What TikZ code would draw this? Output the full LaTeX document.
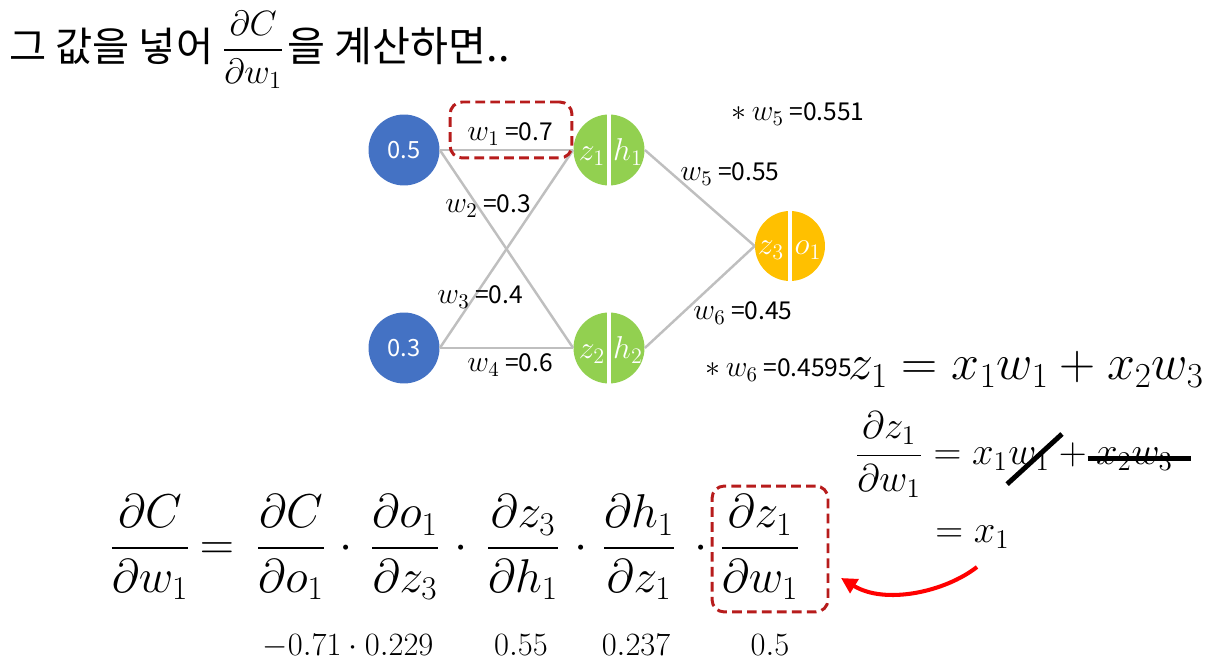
\RequirePackage{fix-cm}
\documentclass[tikz,border=0pt]{standalone}
\usepackage{amsmath}
\usepackage[no-math]{fontspec}
\newfontfamily\krfont{Noto Sans CJK KR}
\usepackage{tikz}
\usetikzlibrary{positioning, calc, arrows.meta}

\definecolor{inblue}{HTML}{4472C4}
\definecolor{hidgreen}{HTML}{92D050}
\definecolor{outgold}{HTML}{FFC000}
\definecolor{wiregray}{HTML}{BFBFBF}
\definecolor{boxred}{RGB}{183,28,28}
\definecolor{penred}{HTML}{FF0000}

\newcommand{\wsym}[1]{{\fontsize{17}{20}\selectfont$w_{#1}$}}
\newcommand{\newmark}{{\fontsize{17}{20}\selectfont$\ast$}}

\begin{document}
\begin{tikzpicture}[x=0.02cm, y=-0.02cm,
  unit/.style={circle, inner sep=0pt, minimum size=1.42cm},
  inp/.style={unit, fill=inblue, text=white, font=\krfont\fontsize{13.5}{15}\selectfont},
  hid/.style={unit, fill=hidgreen},
  outp/.style={unit, fill=outgold, minimum size=1.4cm},
  half/.style={anchor=base, inner sep=0pt, text=white, font=\fontsize{18}{20}\selectfont},
  split/.style={draw=white, line width=2.4pt},
  wire/.style={draw=wiregray, line width=1.4pt},
  wlbl/.style={anchor=base west, inner sep=0pt, font=\krfont\fontsize{14}{16}\selectfont},
  redbox/.style={draw=boxred, line width=1.7pt, rounded corners=7pt, dash pattern=on 5.5pt off 3pt},
  eqn/.style={anchor=base, inner sep=0pt, font=\fontsize{27}{32}\selectfont},
  side/.style={anchor=base west, inner sep=0pt, font=\fontsize{22}{26}\selectfont},
  num/.style={anchor=base, inner sep=0pt, font=\fontsize{18.5}{22}\selectfont},
  strike/.style={line width=2.8pt}
]
\useasboundingbox (0,0) rectangle (1218,668);

%% Title
\node[anchor=base west, inner sep=0pt, font=\krfont\fontsize{23}{28}\selectfont] (title) at (9,62) {그 값을 넣어};
\node[anchor=base west, inner sep=0pt, font=\fontsize{20}{24}\selectfont] (tfrac) at (222,59) {$\displaystyle\frac{\partial C}{\partial w_1}$};
\node[anchor=base west, inner sep=0pt, font=\krfont\fontsize{23.5}{28}\selectfont] (title2) at (287,62) {을 계산하면..};

%% Network units
\node[inp] (in1) at (404,150) {0.5};
\node[inp] (in2) at (404,348) {0.3};
\node[hid] (hid1) at (609,150) {};
\node[hid] (hid2) at (609,348) {};
\node[outp] (out) at (790,246) {};

\draw[split] (hid1.north) -- (hid1.south);
\draw[split] (hid2.north) -- (hid2.south);
\draw[split] (out.north) -- (out.south);

\node[half] (z1) at ($(hid1)+(-17,11)$) {$z_1$};
\node[half] (h1) at ($(hid1)+(19,11)$) {$h_1$};
\node[half] (z2) at ($(hid2)+(-17,11)$) {$z_2$};
\node[half] (h2) at ($(hid2)+(19,11)$) {$h_2$};
\node[half] (z3) at ($(out)+(-19,9)$) {$z_3$};
\node[half] (o1) at ($(out)+(18,9)$) {$o_1$};

%% Wires
\draw[wire] (in1) -- (hid1);
\draw[wire] (in1.east) -- (hid2.west);
\draw[wire] (in2.east) -- (hid1.west);
\draw[wire] (in2) -- (hid2);
\draw[wire] (hid1.east) -- (out.west);
\draw[wire] (hid2.east) -- (out.west);

%% Weights
\node[wlbl] (lw1) at (467,141) {\wsym{1} =0.7};
\node[wlbl] (lw2) at (445,213) {\wsym{2} =0.3};
\node[wlbl] (lw3) at (437,304) {\wsym{3} =0.4};
\node[wlbl] (lw4) at (467,372) {\wsym{4} =0.6};
\node[wlbl] (lw5) at (680,181) {\wsym{5} =0.55};
\node[wlbl] (lw6) at (693,320) {\wsym{6} =0.45};
\node[wlbl] (nw5) at (731,121) {\newmark\ \wsym{5} =0.551};
\node[wlbl] (nw6) at (705,377) {\newmark\ \wsym{6} =0.4595};

\node[redbox, minimum width=2.44cm, minimum height=1.12cm] (selw) at (511,130) {};

%% Right side
\node[side, font=\fontsize{28.5}{34}\selectfont] (zdef) at (848,380) {$z_1 = x_1w_1 + x_2w_3$};
\node[side] (dzdw) at (855,465) {$\displaystyle\frac{\partial z_1}{\partial w_1} = x_1$};
\node[side, base right=0pt of dzdw] (dw1) {$w_1$};
\node[side, base right=0pt of dw1] (dplus) {${}+{}$};
\node[side, base right=0pt of dplus] (dx2w3) {$x_2w_3$};
\draw[strike] ($(dw1.south west)+(-1,13)$) -- ($(dw1.north east)+(12,-14)$);
\draw[strike] ($(dx2w3.west)+(-8,-1)$) -- ($(dx2w3.east)+(18,-1)$);
\node[side] (eqx1) at (935,543) {$= x_1$};

%% Chain rule
\node[eqn] (lhs) at (150,560) {$\displaystyle\frac{\partial C}{\partial w_1}$};
\node[eqn] (eqs) at (217,560) {$=$};
\node[eqn] (fc) at (291,560) {$\displaystyle\frac{\partial C}{\partial o_1}$};
\node[eqn] (d1) at (346,560) {$\cdot$};
\node[eqn] (fo) at (405,560) {$\displaystyle\frac{\partial o_1}{\partial z_3}$};
\node[eqn] (d2) at (461,560) {$\cdot$};
\node[eqn] (fz) at (523,560) {$\displaystyle\frac{\partial z_3}{\partial h_1}$};
\node[eqn] (d3) at (581,560) {$\cdot$};
\node[eqn] (fh) at (639,560) {$\displaystyle\frac{\partial h_1}{\partial z_1}$};
\node[eqn] (d4) at (701,560) {$\cdot$};
\node[eqn] (fw) at (760,560) {$\displaystyle\frac{\partial z_1}{\partial w_1}$};

\node[redbox, minimum width=2.32cm, minimum height=2.52cm] (selz) at (770,549) {};

\node[num] (v1) at (348,656) {$-0.71\cdot 0.229$};
\node[num] (v2) at (521,656) {$0.55$};
\node[num] (v3) at (636,656) {$0.237$};
\node[num] (v4) at (770,656) {$0.5$};

%% Pen arrow
\coordinate (pen) at (977,567);
\coordinate (tip) at (841,578);
\draw[penred, line width=2.3pt, -{Triangle[length=9pt, width=9pt]}] (pen) .. controls (945,592) and (885,605) .. (tip);
\end{tikzpicture}
\end{document}
